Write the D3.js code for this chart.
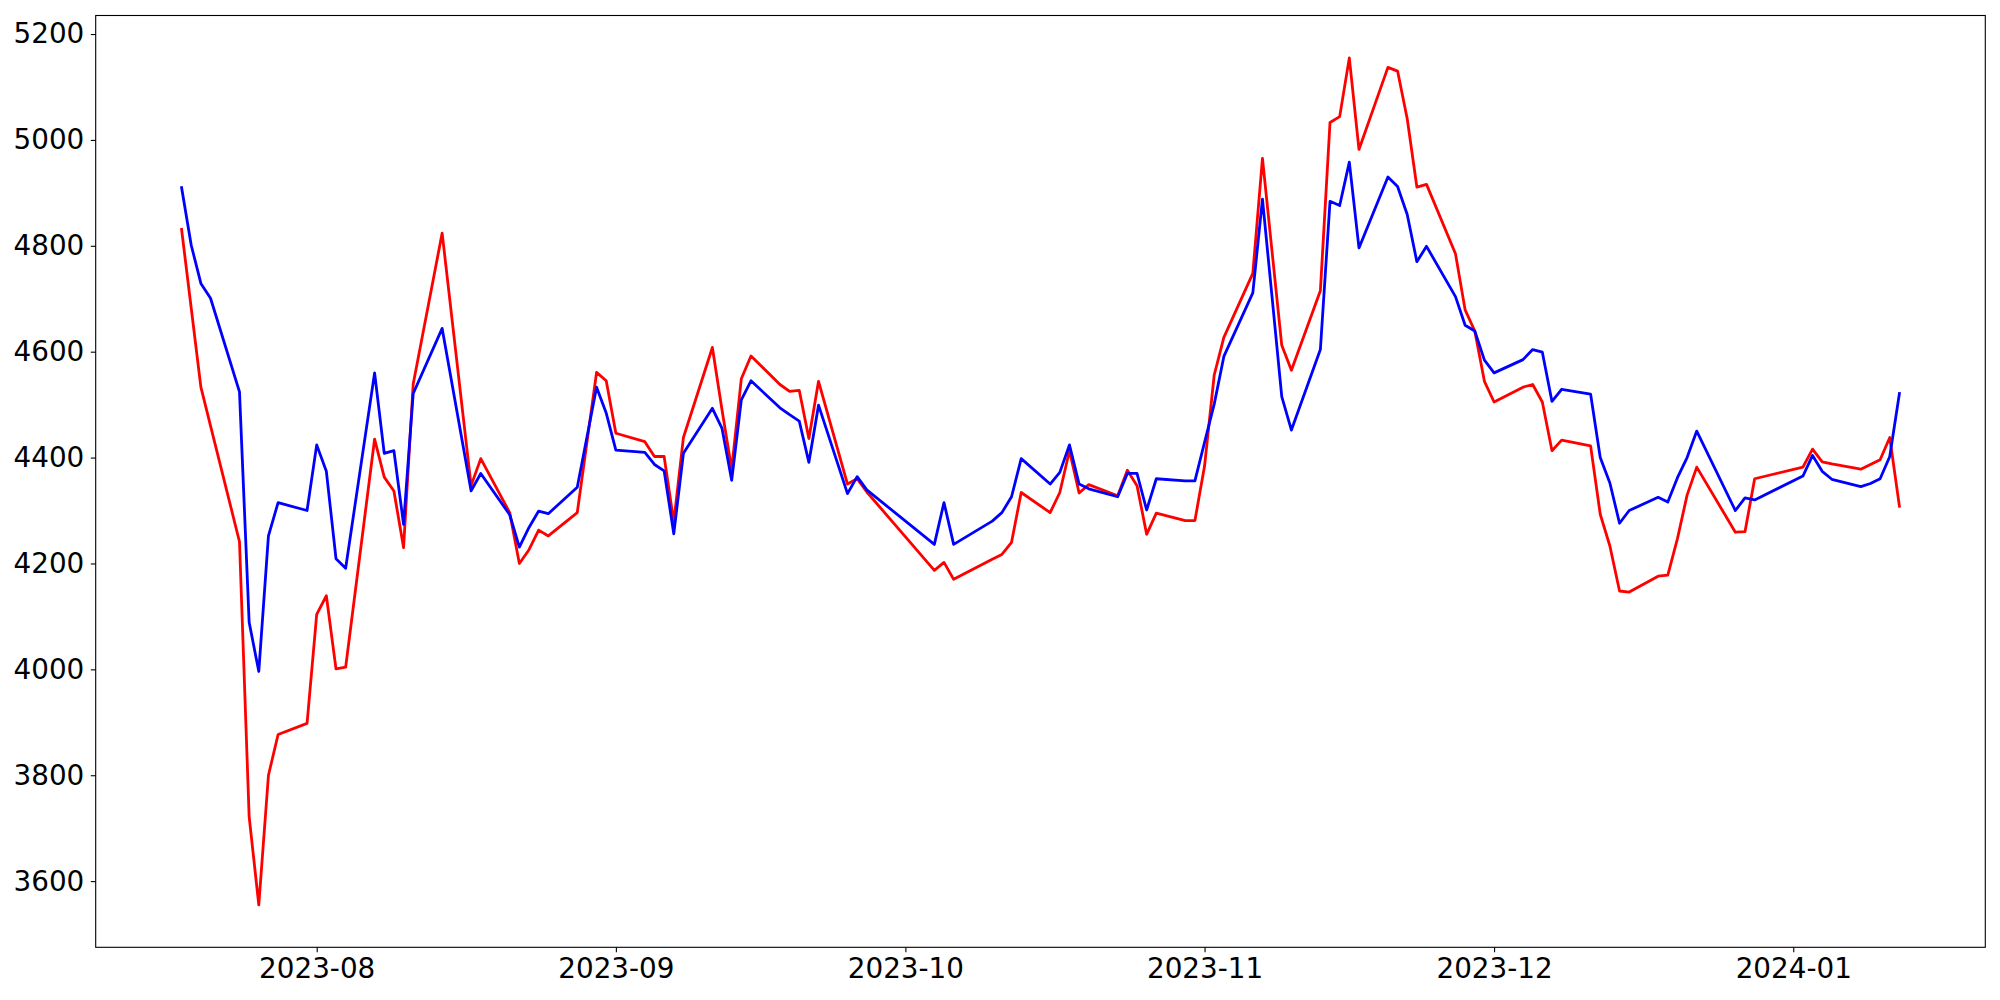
<!DOCTYPE html>
<html>
<head>
<meta charset="utf-8">
<script src="https://cdn.jsdelivr.net/npm/d3@7"></script>
<style>
  html, body { margin: 0; padding: 0; background: #ffffff; }
  svg { display: block; }
  text { font-family: "DejaVu Sans", sans-serif; }
</style>
</head>
<body>
<svg id="chart" width="2000" height="1000"></svg>
<script>
const dates = [
"2023-07-18","2023-07-19","2023-07-20","2023-07-21","2023-07-24","2023-07-25","2023-07-26","2023-07-27","2023-07-28","2023-07-31",
"2023-08-01","2023-08-02","2023-08-03","2023-08-04","2023-08-07","2023-08-08","2023-08-09","2023-08-10","2023-08-11","2023-08-14",
"2023-08-17","2023-08-18","2023-08-21","2023-08-22","2023-08-23","2023-08-24","2023-08-25","2023-08-28","2023-08-30","2023-08-31",
"2023-09-01","2023-09-04","2023-09-05","2023-09-06","2023-09-07","2023-09-08","2023-09-11","2023-09-12","2023-09-13","2023-09-14",
"2023-09-15","2023-09-18","2023-09-19","2023-09-20","2023-09-21","2023-09-22","2023-09-25","2023-09-26","2023-09-27","2023-10-04",
"2023-10-05","2023-10-06","2023-10-10","2023-10-11","2023-10-12","2023-10-13","2023-10-16","2023-10-17","2023-10-18","2023-10-19",
"2023-10-20","2023-10-23","2023-10-24","2023-10-25","2023-10-26","2023-10-27","2023-10-30","2023-10-31","2023-11-01","2023-11-02",
"2023-11-03","2023-11-06","2023-11-07","2023-11-08","2023-11-09","2023-11-10","2023-11-13","2023-11-14","2023-11-15","2023-11-16",
"2023-11-17","2023-11-20","2023-11-21","2023-11-22","2023-11-23","2023-11-24","2023-11-27","2023-11-28","2023-11-29","2023-11-30",
"2023-12-01","2023-12-04","2023-12-05","2023-12-06","2023-12-07","2023-12-08","2023-12-11","2023-12-12","2023-12-13","2023-12-14",
"2023-12-15","2023-12-18","2023-12-19","2023-12-20","2023-12-21","2023-12-22","2023-12-26","2023-12-27","2023-12-28","2024-01-02",
"2024-01-03","2024-01-04","2024-01-05","2024-01-08","2024-01-09","2024-01-10","2024-01-11","2024-01-12"
];

const redSeries = [
4831,4682,4533,4460,4241,3722,3555,3800,3877,3898,
4104,4139,4001,4004,4435,4363,4337,4230,4539,4824,
4347,4398,4296,4200,4226,4263,4252,4296,4561,4545,
4446,4430,4402,4402,4278,4438,4608,4490,4378,4549,
4592,4538,4525,4527,4436,4544,4350,4360,4335,4187,
4202,4170,4208,4217,4240,4334,4296,4334,4413,4333,
4349,4328,4376,4347,4255,4295,4281,4281,4384,4556,
4627,4748,4965,4788,4612,4565,4715,5033,5044,5155,
4982,5137,5130,5040,4911,4916,4785,4679,4639,4544,
4505,4533,4538,4505,4413,4433,4422,4293,4233,4148,
4146,4176,4178,4247,4329,4382,4259,4260,4360,4382,
4416,4392,4388,4378,4387,4396,4438,4308
];

const blueSeries = [
4910,4801,4729,4701,4524,4089,3996,4252,4315,4300,
4424,4374,4209,4191,4560,4408,4413,4274,4521,4644,
4337,4370,4292,4231,4268,4299,4294,4344,4533,4484,
4414,4410,4387,4375,4256,4408,4493,4455,4357,4509,
4545,4494,4481,4469,4391,4499,4332,4364,4339,4236,
4315,4236,4280,4296,4326,4398,4350,4372,4424,4350,
4341,4326,4370,4370,4301,4360,4356,4356,4429,4501,
4591,4711,4888,4702,4515,4452,4604,4884,4876,4958,
4796,4930,4912,4859,4770,4799,4704,4650,4639,4584,
4560,4585,4604,4599,4506,4529,4520,4400,4352,4276,
4300,4325,4316,4362,4400,4450,4300,4324,4320,4365,
4404,4374,4359,4345,4351,4360,4402,4521
];

const yTicks = [3600, 3800, 4000, 4200, 4400, 4600, 4800, 5000, 5200];
const xTickLabels = ["2023-08", "2023-09", "2023-10", "2023-11", "2023-12", "2024-01"];

const parse = d3.timeParse("%Y-%m-%d");
const parseMonth = d3.timeParse("%Y-%m");
const X = dates.map(parse);

const plot = { left: 95.7, right: 1985.3, top: 15.5, bottom: 947.3 };
const FS = 27.8;

const xExt = d3.extent(X);
const xPad = (xExt[1] - xExt[0]) * 0.05;
const x = d3.scaleTime()
  .domain([new Date(+xExt[0] - xPad), new Date(+xExt[1] + xPad)])
  .range([plot.left, plot.right]);

const allVals = redSeries.concat(blueSeries);
const yMin = d3.min(allVals), yMax = d3.max(allVals);
const yPad = (yMax - yMin) * 0.05;
const y = d3.scaleLinear()
  .domain([yMin - yPad, yMax + yPad])
  .range([plot.bottom, plot.top]);

const svg = d3.select("#chart");

const line = d3.line().x((d, i) => x(X[i])).y(d => y(d));

svg.append("path").datum(redSeries)
  .attr("d", line).attr("fill", "none")
  .attr("stroke", "#ff0000").attr("stroke-width", 2.8)
  .attr("stroke-linejoin", "round").attr("stroke-linecap", "square");

svg.append("path").datum(blueSeries)
  .attr("d", line).attr("fill", "none")
  .attr("stroke", "#0000ff").attr("stroke-width", 2.8)
  .attr("stroke-linejoin", "round").attr("stroke-linecap", "square");

// Axes
const xAxis = d3.axisBottom(x)
  .tickValues(xTickLabels.map(parseMonth))
  .tickFormat(d3.timeFormat("%Y-%m"))
  .tickSize(4.9).tickPadding(6);
const gx = svg.append("g").attr("transform", `translate(0,${plot.bottom})`).call(xAxis);
gx.select(".domain").remove();
gx.selectAll(".tick line").attr("stroke", "#000").attr("stroke-width", 1.1);
gx.selectAll(".tick text").attr("font-size", FS).attr("font-family", "DejaVu Sans").attr("fill", "#000");

const yAxis = d3.axisLeft(y)
  .tickValues(yTicks)
  .tickFormat(d3.format("d"))
  .tickSize(4.9).tickPadding(6.5);
const gy = svg.append("g").attr("transform", `translate(${plot.left},0)`).call(yAxis);
gy.select(".domain").remove();
gy.selectAll(".tick line").attr("stroke", "#000").attr("stroke-width", 1.1);
gy.selectAll(".tick text").attr("font-size", FS).attr("font-family", "DejaVu Sans").attr("fill", "#000");

// Frame
svg.append("rect")
  .attr("x", plot.left).attr("y", plot.top)
  .attr("width", plot.right - plot.left).attr("height", plot.bottom - plot.top)
  .attr("fill", "none").attr("stroke", "#000").attr("stroke-width", 1.1);
</script>
</body>
</html>
